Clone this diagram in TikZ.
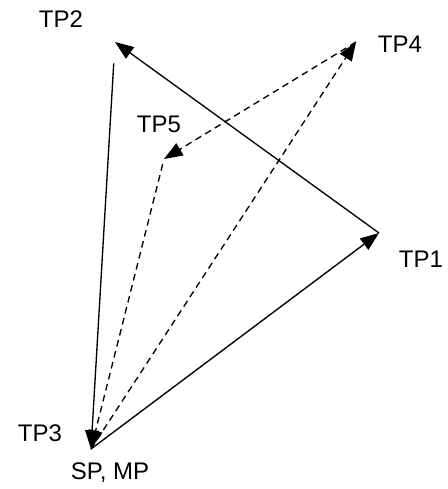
\documentclass[tikz,border=0pt]{standalone}
\usepackage{fontspec}
\setmainfont{Liberation Sans}
\usetikzlibrary{arrows.meta}

\begin{document}
\begin{tikzpicture}[
    x=0.75pt,
    y=-0.75pt,
    rotulo/.style={
        font=\fontsize{18}{20}\selectfont,
        inner sep=0pt
    },
    seta/.style={
        -{Triangle[length=14pt, width=10.5pt]},
        line width=1pt
    },
    setaTracejada/.style={
        seta,
        dash pattern=on 5pt off 3.5pt
    }
]

\useasboundingbox (0,0) rectangle (447,489);

\coordinate (sp) at (91,449);
\coordinate (tp1) at (379,233);
\coordinate (tp2) at (115,42);
\coordinate (tp4) at (356,42);
\coordinate (tp5) at (164,159);

\node[rotulo] (rotTP1) at (421,259) {TP1};
\node[rotulo] (rotTP2) at (61,19) {TP2};
\node[rotulo] (rotTP3) at (40,433) {TP3};
\node[rotulo] (rotTP4) at (400,44) {TP4};
\node[rotulo] (rotTP5) at (159,124) {TP5};
\node[rotulo] (rotSP) at (110,473) {SP, MP};

% volta com linha cheia
\draw[seta] (sp) -- (tp1);
\draw[seta] (tp1) -- (tp2);
\draw[seta, shorten <=16] (tp2) -- (sp);

% volta tracejada
\draw[setaTracejada] (sp) -- (tp4);
\draw[setaTracejada] (tp4) -- (tp5);
\draw[setaTracejada, shorten <=4] (tp5) -- (sp);

\end{tikzpicture}
\end{document}
